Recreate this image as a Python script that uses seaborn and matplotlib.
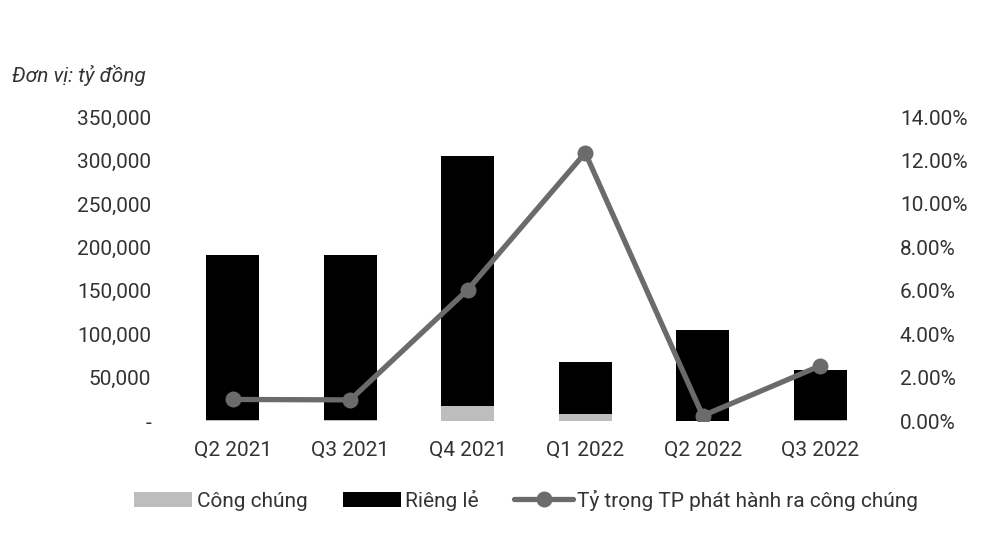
import pandas as pd
import seaborn as sns
import matplotlib.pyplot as plt
from matplotlib.lines import Line2D
from matplotlib.patches import Patch

# Dữ liệu (tỷ đồng)
quy = ["Q2 2021", "Q3 2021", "Q4 2021", "Q1 2022", "Q2 2022", "Q3 2022"]
cong_chung = [1900, 1800, 18000, 8400, 300, 1500]
rieng_le = [189100, 189200, 287000, 59600, 104500, 57200]
ty_trong = [1.0, 0.98, 6.05, 12.35, 0.25, 2.55]

df = pd.DataFrame({"Quy": quy, "CongChung": cong_chung, "RiengLe": rieng_le,
                   "TyTrong": ty_trong})
df["Tong"] = df["CongChung"] + df["RiengLe"]

sns.set_theme(style="white")
plt.rcParams["font.family"] = ["Roboto", "DejaVu Sans"]
text_color = "#333333"
line_color = "#6b6b6b"
fs = 15

fig = plt.figure(figsize=(10, 5.52), dpi=100)
ax = fig.add_axes([0.174, 0.237, 0.705, 0.551])

# Cột chồng: tổng màu đen, phần công chúng màu xám ở dưới
sns.barplot(data=df, x="Quy", y="Tong", color="black", width=0.45,
            saturation=1, edgecolor="none", linewidth=0, ax=ax)
sns.barplot(data=df, x="Quy", y="CongChung", color="#bdbdbd", width=0.45,
            saturation=1, edgecolor="none", linewidth=0, ax=ax)
ax.set_ylim(0, 350000)
ax.set_yticks(range(0, 350001, 50000))
ax.set_yticklabels(["-"] + [f"{v:,}" for v in range(50000, 350001, 50000)])
ax.set_xlabel("")
ax.set_ylabel("")

# Đường tỷ trọng trên trục phải
ax2 = ax.twinx()
sns.lineplot(data=df, x="Quy", y="TyTrong", sort=False, color=line_color,
             linewidth=3.8, marker="o", markersize=11.5, markeredgewidth=0,
             ax=ax2)
ax2.set_ylim(0, 14)
ax2.set_yticks(range(0, 15, 2))
ax2.set_yticklabels([f"{v:.2f}%" for v in range(0, 15, 2)])
ax2.set_ylabel("")
ax.set_xlim(-0.5, len(quy) - 0.5)

for a in (ax, ax2):
    for s in a.spines.values():
        s.set_visible(False)
    a.tick_params(axis="both", length=0, labelsize=fs, colors=text_color)
ax.tick_params(axis="y", pad=16.5)
ax2.tick_params(axis="y", pad=15)
ax.tick_params(axis="x", pad=14)

fig.text(0.012, 0.851, "Đơn vị: tỷ đồng", fontsize=fs, style="italic",
         color=text_color)

handles = [
    Patch(facecolor="#bdbdbd", edgecolor="none"),
    Patch(facecolor="black", edgecolor="none"),
    Line2D([0], [0], color=line_color, linewidth=3.8, marker="o",
           markersize=11.5, markeredgewidth=0),
]
labels = ["Công chúng", "Riêng lẻ", "Tỷ trọng TP phát hành ra công chúng"]
fig.legend(handles, labels, loc="center", bbox_to_anchor=(0.526, 0.094),
           ncol=3, frameon=False, fontsize=fs, handlelength=2.8,
           handleheight=0.75, handletextpad=0.2, columnspacing=1.7,
           labelcolor=text_color)

fig.savefig("out.png", dpi=100)
